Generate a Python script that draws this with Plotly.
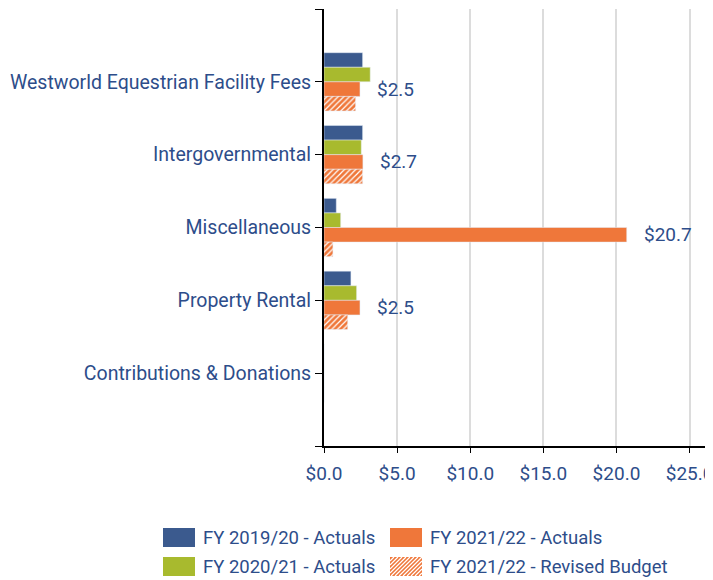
import plotly.graph_objects as go

categories = [
    "Westworld Equestrian Facility Fees",
    "Intergovernmental",
    "Miscellaneous",
    "Property Rental",
    "Contributions & Donations",
]
fy1920_actuals = [2.64, 2.64, 0.84, 1.84, 0.0]
fy2021_actuals = [3.16, 2.55, 1.14, 2.23, 0.0]
fy2122_actuals = [2.46, 2.66, 20.7, 2.46, 0.0]
fy2122_revised = [2.16, 2.64, 0.61, 1.62, 0.0]
x_ticks = [0, 5, 10, 15, 20, 25]
x_tick_labels = ["$0.0", "$5.0", "$10.0", "$15.0", "$20.0", "$25.0"]

BLUE = "#3B5A8E"
GREEN = "#A8BA2E"
ORANGE = "#EF773A"
TEXT = "#2D4D8A"
FONT = "Roboto"

y_pos = list(range(len(categories)))

fig = go.Figure()
fig.add_trace(go.Bar(y=y_pos, x=fy1920_actuals, orientation="h", marker_color=BLUE,
                     name="FY 2019/20 - Actuals"))
fig.add_trace(go.Bar(y=y_pos, x=fy2021_actuals, orientation="h", marker_color=GREEN,
                     name="FY 2020/21 - Actuals"))
fig.add_trace(go.Bar(y=y_pos, x=fy2122_actuals, orientation="h", marker_color=ORANGE,
                     name="FY 2021/22 - Actuals"))
fig.add_trace(go.Bar(
    y=y_pos, x=fy2122_revised, orientation="h", name="FY 2021/22 - Revised Budget",
    marker=dict(color=ORANGE, pattern=dict(shape="/", fgcolor="white", bgcolor=ORANGE,
                                           size=4, solidity=0.3, fillmode="replace")),
))

# value labels next to the FY 2021/22 actuals bar
for i, v in enumerate(fy2122_actuals):
    if v > 0:
        fig.add_annotation(x=v, y=i + 0.1, text=f"${v:.1f}", showarrow=False,
                           xanchor="left", yanchor="middle", xshift=15,
                           font=dict(family=FONT, size=19, color=TEXT))

# custom legend (big swatches, two columns), offsets in px from the plot origin
legend_items = [
    ("FY 2019/20 - Actuals", BLUE, -161, -82),
    ("FY 2021/22 - Actuals", ORANGE, 66, -82),
    ("FY 2020/21 - Actuals", GREEN, -161, -111),
    ("FY 2021/22 - Revised Budget", None, 66, -111),
]
sw, sh = 32, 19
for label, color, px0, py0 in legend_items:
    fig.add_shape(type="rect", xref="paper", yref="paper", xsizemode="pixel", ysizemode="pixel",
                  xanchor=0, yanchor=0, x0=px0, x1=px0 + sw, y0=py0 - sh, y1=py0,
                  fillcolor=color or ORANGE, line_width=0)
    if color is None:
        segs = []
        for d in range(-sh, sw, 4):
            sx, sy = px0 + max(d, 0), py0 - sh + max(-d, 0)
            ex, ey = px0 + min(sw, sh + d), py0 - sh + min(sh, sw - d)
            segs.append(f"M{sx},{sy}L{ex},{ey}")
        fig.add_shape(type="path", xref="paper", yref="paper", xsizemode="pixel",
                      ysizemode="pixel", xanchor=0, yanchor=0, path="".join(segs),
                      line=dict(color="white", width=1.2))
    fig.add_annotation(xref="paper", yref="paper", x=0, y=0, xshift=px0 + sw + 6,
                       yshift=py0 - sh / 2, text=label, showarrow=False,
                       xanchor="left", yanchor="middle",
                       font=dict(family=FONT, size=18.5, color=TEXT))

# page has an 8px body margin, so the figure is 8px smaller than the window
fig.update_layout(
    width=705, height=572,
    margin=dict(l=316, r=0, t=1, b=134),
    plot_bgcolor="white", paper_bgcolor="white",
    barmode="group", bargap=0.2, bargroupgap=0,
    showlegend=False,
    font=dict(family=FONT, size=19, color=TEXT),
)
fig.update_xaxes(
    range=[0, 26.6], tickvals=x_ticks, ticktext=x_tick_labels,
    showgrid=True, gridcolor="#DCDCDC", gridwidth=2, zeroline=False,
    showline=True, linecolor="black", linewidth=2,
    ticks="outside", ticklen=5, tickcolor="black", ticklabelstandoff=4,
    ticklabeloverflow="allow",
    tickfont=dict(family=FONT, size=19, color=TEXT),
)
fig.update_yaxes(
    range=[5, -1], tickvals=[-1] + y_pos + [5], ticktext=[""] + categories + [""],
    showgrid=False, zeroline=False,
    showline=True, linecolor="black", linewidth=2,
    ticks="outside", ticklen=7, tickcolor="black",
    tickfont=dict(family=FONT, size=19.5, color=TEXT),
)

fig.write_html("out.html")
